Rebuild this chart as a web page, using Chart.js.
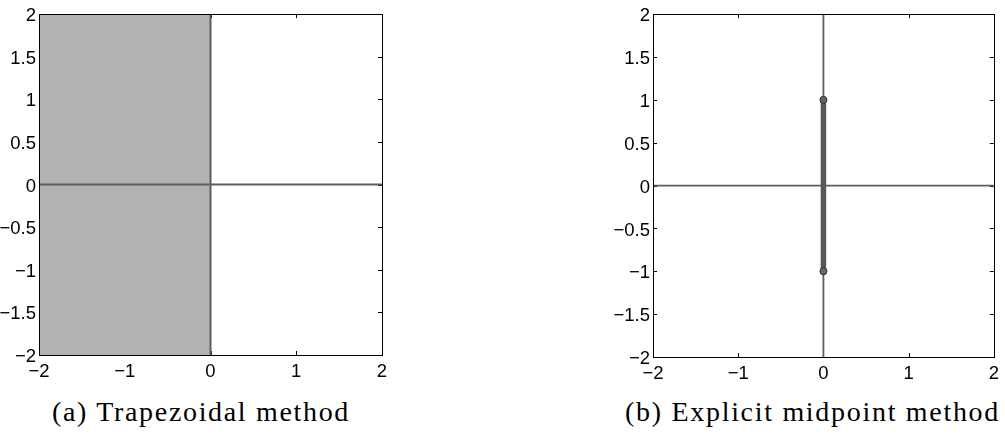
<!DOCTYPE html>
<html lang="en">
<head>
  <meta charset="UTF-8" />
  <title>Stability regions</title>
  <script src="https://cdn.jsdelivr.net/npm/chart.js"></script>
  <style>
    html, body { margin: 0; padding: 0; background: #fff; }
    body { width: 1005px; height: 435px; position: relative; overflow: hidden; }
    .panel { position: absolute; top: 0; height: 390px; }
    .caption {
      position: absolute; top: 398px; font-family: "Liberation Serif", serif;
      font-size: 28px; line-height: 28px; color: #000; white-space: nowrap;
    }
  </style>
</head>
<body>

  <div class="panel" style="left:0; width:400px;"><canvas id="trapChart"></canvas></div>
  <div class="panel" style="left:600px; width:405px;"><canvas id="midChart"></canvas></div>

  <div class="caption" id="capA" style="left:52px;" data-w="298">(a) Trapezoidal method</div>
  <div class="caption" id="capB" style="left:625px;" data-w="375">(b) Explicit midpoint method</div>

  <script>
  // tick values shared by both panels
  const xTickValues = [-2, -1, 0, 1, 2];
  const yTickValues = [-2, -1.5, -1, -0.5, 0, 0.5, 1, 1.5, 2];

  // real and imaginary axes
  const realAxisX = [-2, 2];
  const realAxisY = [0, 0];
  const imagAxisX = [0, 0];
  const imagAxisY = [-2, 2];

  // trapezoidal: whole left half plane (filled down to -2)
  const trapRegionX = [-2, 0];
  const trapRegionTop = [2, 2];
  const trapRegionBottom = -2;

  // explicit midpoint: segment on the imaginary axis
  const midSegmentX = [0, 0];
  const midSegmentY = [-1, 1];

  const toPoints = (xs, ys) => xs.map((x, i) => ({ x: x, y: ys[i] }));
  const fmt = v => v < 0 ? '\u2212' + Math.abs(v) : String(v);

  // stretch the captions a bit, the original font is wider than times
  document.querySelectorAll('.caption').forEach(el => {
    const natural = el.getBoundingClientRect().width;
    const n = el.textContent.length;
    el.style.letterSpacing = ((+el.dataset.w - natural) / n) + 'px';
  });

  // inward ticks + box, matlab style
  const framePlugin = {
    id: 'frame',
    beforeDatasetsDraw(chart) {
      const { ctx, chartArea: a, scales } = chart;
      ctx.save();
      ctx.strokeStyle = '#000';
      ctx.lineWidth = 1;
      ctx.beginPath();
      xTickValues.forEach(v => {
        const px = Math.round(scales.x.getPixelForValue(v)) + 0.5;
        ctx.moveTo(px, a.bottom); ctx.lineTo(px, a.bottom - 4);
        ctx.moveTo(px, a.top); ctx.lineTo(px, a.top + 4);
      });
      yTickValues.forEach(v => {
        const py = Math.round(scales.y.getPixelForValue(v)) + 0.5;
        ctx.moveTo(a.left, py); ctx.lineTo(a.left + 4, py);
        ctx.moveTo(a.right, py); ctx.lineTo(a.right - 4, py);
      });
      ctx.stroke();
      ctx.restore();
    },
    afterDatasetsDraw(chart) {
      const { ctx, chartArea: a } = chart;
      ctx.save();
      ctx.strokeStyle = '#000';
      ctx.lineWidth = 1;
      ctx.strokeRect(Math.round(a.left) + 0.5, Math.round(a.top) + 0.5,
                     Math.round(a.right - a.left), Math.round(a.bottom - a.top));
      ctx.restore();
    }
  };

  function makeScales(yWidth) {
    const tickFont = { family: '"Liberation Sans", Arial, sans-serif', size: 18.5 };
    return {
      x: {
        type: 'linear', min: -2, max: 2,
        afterBuildTicks: s => { s.ticks = xTickValues.map(v => ({ value: v })); },
        afterFit: s => { s.height = 30; },
        grid: { display: false, drawTicks: false },
        border: { display: false },
        ticks: { color: '#000', font: tickFont, padding: 6, maxRotation: 0, autoSkip: false, callback: fmt }
      },
      y: {
        type: 'linear', min: -2, max: 2,
        afterBuildTicks: s => { s.ticks = yTickValues.map(v => ({ value: v })); },
        afterFit: s => { s.width = yWidth; },
        grid: { display: false, drawTicks: false },
        border: { display: false },
        ticks: { color: '#000', font: tickFont, padding: 3, labelOffset: 2, autoSkip: false, callback: fmt }
      }
    };
  }

  const baseOptions = (yWidth, padding) => ({
    responsive: true,
    maintainAspectRatio: false,
    animation: false,
    layout: { padding: padding },
    plugins: { legend: { display: false }, tooltip: { enabled: false } },
    scales: makeScales(yWidth)
  });

  const axisLine = (xs, ys, w) => ({
    data: toPoints(xs, ys), showLine: true, borderColor: '#5e5e5e', borderWidth: w,
    pointRadius: 0, fill: false, order: 1
  });

  new Chart(document.getElementById('trapChart'), {
    type: 'scatter',
    data: {
      datasets: [
        {
          data: toPoints(trapRegionX, trapRegionTop), showLine: true,
          borderWidth: 0, borderColor: 'rgba(0,0,0,0)', pointRadius: 0,
          backgroundColor: '#b3b3b3', fill: { value: trapRegionBottom }, order: 5
        },
        axisLine(realAxisX, realAxisY, 2),
        axisLine(imagAxisX, imagAxisY, 2)
      ]
    },
    options: baseOptions(39, { left: 0, right: 18, top: 11, bottom: 5 }),
    plugins: [framePlugin]
  });

  new Chart(document.getElementById('midChart'), {
    type: 'scatter',
    data: {
      datasets: [
        axisLine(realAxisX, realAxisY, 1.8),
        axisLine(imagAxisX, imagAxisY, 1.8),
        {
          data: toPoints(midSegmentX, midSegmentY), showLine: true,
          borderColor: '#575757', borderWidth: 5.5,
          pointRadius: 3.5, pointBackgroundColor: '#666', pointBorderColor: '#2e2e2e',
          pointBorderWidth: 1, fill: false, order: 0
        }
      ]
    },
    options: baseOptions(53, { left: 0, right: 7, top: 13, bottom: 3 }),
    plugins: [framePlugin]
  });
  </script>
</body>
</html>
